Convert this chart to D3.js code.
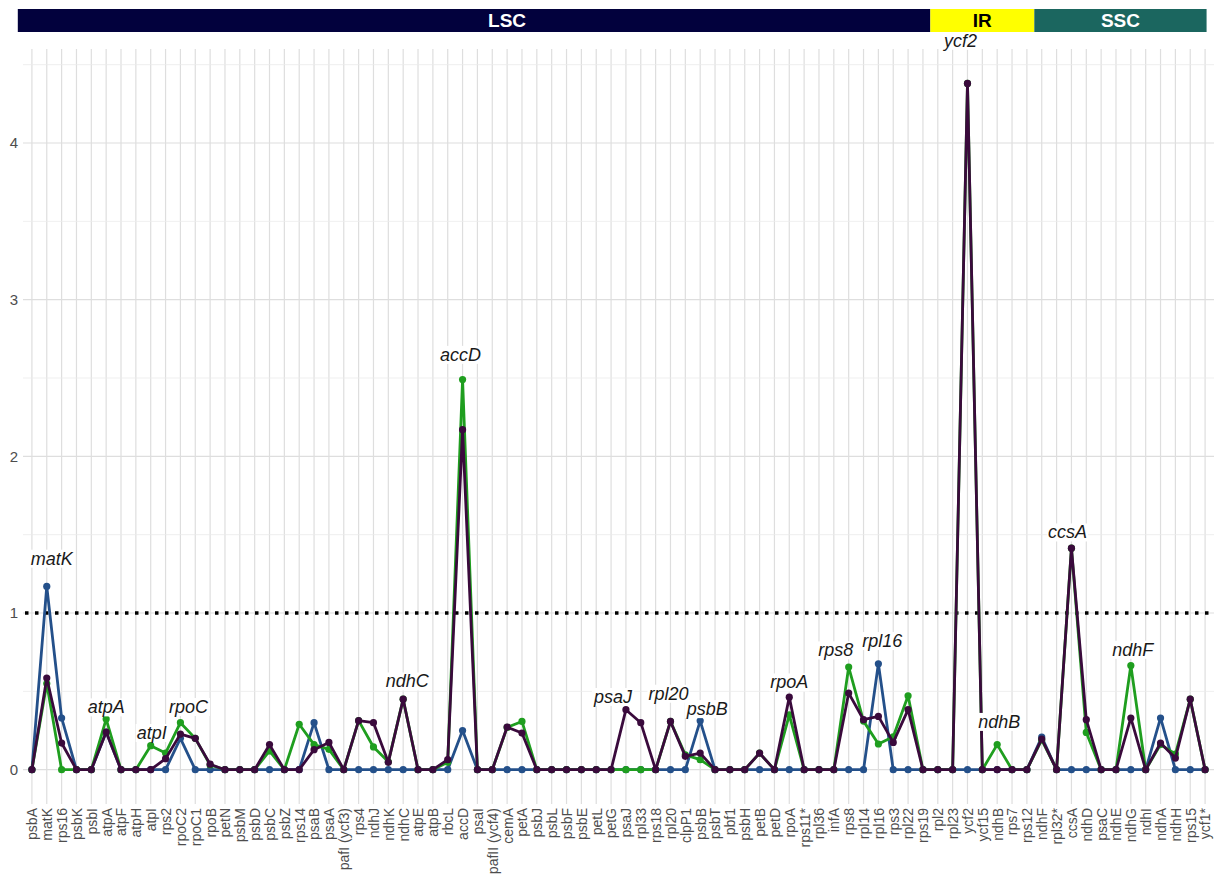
<!DOCTYPE html>
<html>
<head>
<meta charset="utf-8">
<script src="https://cdn.jsdelivr.net/npm/d3@7"></script>
<style>
  body { margin: 0; background: #fff; }
  text { font-family: "Liberation Sans", Arial, sans-serif; }
</style>
</head>
<body>
<svg id="chart" width="1215" height="877"></svg>
<script>
// genes along the plastome, in plotting order
var genes = ["psbA","matK","rps16","psbK","psbI","atpA","atpF","atpH","atpI","rps2",
  "rpoC2","rpoC1","rpoB","petN","psbM","psbD","psbC","psbZ","rps14","psaB",
  "psaA","pafI (ycf3)","rps4","ndhJ","ndhK","ndhC","atpE","atpB","rbcL","accD",
  "psaI","pafII (ycf4)","cemA","petA","psbJ","psbL","psbF","psbE","petL","petG",
  "psaJ","rpl33","rps18","rpl20","clpP1","psbB","psbT","pbf1","psbH","petB",
  "petD","rpoA","rps11*","rpl36","infA","rps8","rpl14","rpl16","rps3","rpl22",
  "rps19","rpl2","rpl23","ycf2","ycf15","ndhB","rps7","rps12","ndhF","rpl32*",
  "ccsA","ndhD","psaC","ndhE","ndhG","ndhI","ndhA","ndhH","rps15","ycf1*"];

var blueVals = [0,1.17,0.33,0,0,0.24,0,0,0,0,
  0.20,0,0,0,0,0,0,0,0,0.30,
  0,0,0,0,0,0,0,0,0,0.25,
  0,0,0,0,0,0,0,0,0,0,
  0,0,0,0,0,0.312,0,0,0,0,
  0,0,0,0,0,0,0,0.676,0,0,
  0,0,0,0,0,0,0,0,0.208,0,
  0,0,0,0,0,0,0.33,0,0,0];

var greenVals = [0,0.55,0,0,0,0.323,0,0,0.153,0.106,
  0.30,0.20,0.03,0,0,0,0.12,0,0.29,0.16,
  0.13,0,0.313,0.145,0.05,0.45,0,0,0.047,2.49,
  0,0,0.27,0.308,0,0,0,0,0,0,
  0,0,0,0.308,0.095,0.064,0,0,0,0.106,
  0,0.35,0,0,0,0.655,0.31,0.164,0.21,0.472,
  0,0,0,4.38,0,0.16,0,0,0.19,0,
  1.414,0.238,0,0,0.665,0,0.16,0.10,0.45,0];

var purpleVals = [0,0.585,0.17,0,0,0.24,0,0,0,0.07,
  0.227,0.20,0.035,0,0,0,0.16,0,0,0.128,
  0.174,0,0.313,0.30,0.047,0.45,0,0,0.064,2.17,
  0,0,0.272,0.234,0,0,0,0,0,0,
  0.383,0.30,0,0.308,0.085,0.106,0,0,0,0.106,
  0,0.463,0,0,0,0.489,0.319,0.34,0.174,0.383,
  0,0,0,4.38,0,0,0,0,0.196,0,
  1.414,0.319,0,0,0.33,0,0.17,0.074,0.45,0];

var yTicks = [0, 1, 2, 3, 4];
var yMinor = [0.5, 1.5, 2.5, 3.5, 4.5];
var threshold = 1;

var regionNames = ["LSC", "IR", "SSC"];
var regionFirst = ["psbA", "rpl2", "ndhF"];
var regionLast  = ["rps19", "rps12", "ycf1*"];

// gene names written over the peaks (anchor gene, shown text)
var labelAnchors = ["matK","atpA","atpI","rpoC2","ndhC","accD","psaJ","rpl20","psbB",
  "rpoA","rps8","rpl16","ycf2","ndhB","ccsA","ndhG"];
var labelTexts = ["matK","atpA","atpI","rpoC","ndhC","accD","psaJ","rpl20","psbB",
  "rpoA","rps8","rpl16","ycf2","ndhB","ccsA","ndhF"];

// layout only: pixel nudges of each label from its peak
var labelNudge = [[5,-28],[0,-12],[1,-13],[8,-16],[4,-18],[-2,-25],[-13,-13],[-2,-28],[7,-12],
  [0,-15],[-13,-17],[4,-23],[-7,-43],[2,-23],[-4,-16],[2,-16]];

var svg = d3.select("#chart");
var panelL = 23, panelR = 1214, panelT = 49, panelB = 804;

var x = d3.scalePoint()
    .domain(genes)
    .range([panelL, panelR])
    .padding(0.6);

var y = d3.scaleLinear()
    .domain([-0.219, 4.6])
    .range([panelB, panelT]);

var g = svg.append("g");

// grid
g.selectAll(".vgrid").data(genes).enter().append("line")
    .attr("x1", function(d) { return x(d); })
    .attr("x2", function(d) { return x(d); })
    .attr("y1", panelT).attr("y2", panelB)
    .attr("stroke", "#dedede").attr("stroke-width", 1.2);

g.selectAll(".hminor").data(yMinor).enter().append("line")
    .attr("x1", panelL).attr("x2", panelR)
    .attr("y1", function(d) { return y(d); })
    .attr("y2", function(d) { return y(d); })
    .attr("stroke", "#ebebeb").attr("stroke-width", 0.8);

g.selectAll(".hmajor").data(yTicks).enter().append("line")
    .attr("x1", panelL).attr("x2", panelR)
    .attr("y1", function(d) { return y(d); })
    .attr("y2", function(d) { return y(d); })
    .attr("stroke", "#dedede").attr("stroke-width", 1.2);

// axes
var yAxis = g.append("g")
    .attr("transform", "translate(" + panelL + ",0)")
    .call(d3.axisLeft(y).tickValues(yTicks).tickSize(0).tickPadding(5).tickFormat(d3.format("d")));
yAxis.select(".domain").remove();
yAxis.selectAll("text")
    .attr("fill", "#4d4d4d")
    .style("font-size", "15px")
    .style("font-family", "'Liberation Sans', Arial, sans-serif");

var xAxis = g.append("g")
    .attr("transform", "translate(0," + panelB + ")")
    .call(d3.axisBottom(x).tickSize(0));
xAxis.select(".domain").remove();
xAxis.selectAll("text")
    .attr("transform", "rotate(-90)")
    .attr("text-anchor", "end")
    .attr("x", -4)
    .attr("y", 0)
    .attr("dy", "0.35em")
    .attr("fill", "#4d4d4d")
    .style("font-size", "14px")
    .style("font-family", "'Liberation Sans', Arial, sans-serif");

// threshold
g.append("line")
    .attr("x1", panelL + 2).attr("x2", panelR)
    .attr("y1", y(threshold)).attr("y2", y(threshold))
    .attr("stroke", "#000")
    .attr("stroke-width", 3.5)
    .attr("stroke-dasharray", "3.5,6.5");

// series
var series = [
  {vals: blueVals, color: "#24508a"},
  {vals: greenVals, color: "#1f9e1f"},
  {vals: purpleVals, color: "#3a0a3c"}
];

var line = d3.line()
    .x(function(d, i) { return x(genes[i]); })
    .y(function(d) { return y(d); });

series.forEach(function(s) {
  g.append("path")
      .datum(s.vals)
      .attr("fill", "none")
      .attr("stroke", s.color)
      .attr("stroke-width", 2.8)
      .attr("stroke-linejoin", "round")
      .attr("d", line);
  g.selectAll(null).data(s.vals).enter().append("circle")
      .attr("cx", function(d, i) { return x(genes[i]); })
      .attr("cy", function(d) { return y(d); })
      .attr("r", 3.6)
      .attr("fill", s.color);
});

// peak labels with white boxes
var lab = g.append("g");
labelAnchors.forEach(function(gene, k) {
  var i = genes.indexOf(gene);
  var peak = Math.max(blueVals[i], greenVals[i], purpleVals[i]);
  var lg = lab.append("g");
  var t = lg.append("text")
      .attr("x", x(gene) + labelNudge[k][0])
      .attr("y", y(peak) + labelNudge[k][1])
      .attr("dy", "0.35em")
      .attr("text-anchor", "middle")
      .attr("font-style", "italic")
      .attr("fill", "#1a1a1a")
      .style("font-size", "18px")
      .text(labelTexts[k]);
  var bb = t.node().getBBox();
  lg.insert("rect", "text")
      .attr("x", bb.x - 1).attr("y", bb.y + 1)
      .attr("width", bb.width + 2).attr("height", bb.height - 2)
      .attr("fill", "#fff");
});

// region bar
var step = x.step();
var barTop = 9, barH = 23;
var barFill = ["#02013d", "#ffff00", "#1b665f"];
var barText = ["#fff", "#000", "#fff"];
var barTextNudge = [33, 0, 0];
regionNames.forEach(function(name, k) {
  var x0 = k === 0 ? x(regionFirst[k]) - 0.95 * step : x(regionFirst[k]) - step / 2;
  var x1 = k === regionNames.length - 1 ? x(regionLast[k]) + 0.1 * step : x(regionLast[k]) + step / 2;
  svg.append("rect")
      .attr("x", x0).attr("y", barTop)
      .attr("width", x1 - x0).attr("height", barH)
      .attr("fill", barFill[k]);
  svg.append("text")
      .attr("x", (x0 + x1) / 2 + barTextNudge[k])
      .attr("y", barTop + barH / 2)
      .attr("dy", "0.36em")
      .attr("text-anchor", "middle")
      .attr("font-weight", "bold")
      .attr("fill", barText[k])
      .style("font-size", "19px")
      .text(name);
});
</script>
</body>
</html>
